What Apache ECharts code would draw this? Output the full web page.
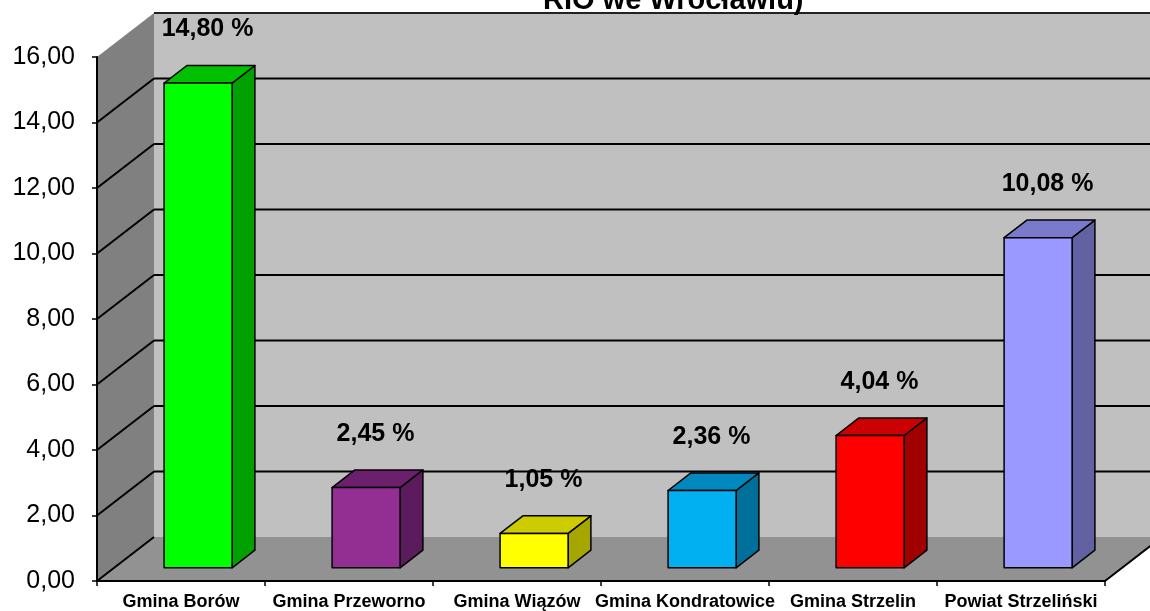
<!DOCTYPE html>
<html>
<head>
<meta charset="utf-8">
<script src="https://cdn.jsdelivr.net/npm/echarts@6/dist/echarts.min.js"></script>
<style>
  html, body { margin: 0; padding: 0; background: #fff; }
  #chart { width: 1150px; height: 611px; }
</style>
</head>
<body>
<div id="chart"></div>
<script>
// dane
var categories = ['Gmina Borów', 'Gmina Przeworno', 'Gmina Wiązów', 'Gmina Kondratowice', 'Gmina Strzelin', 'Powiat Strzeliński']
var values = [14.80, 2.45, 1.05, 2.36, 4.04, 10.08]
var yTicks = [0, 2, 4, 6, 8, 10, 12, 14, 16]
var titleText = 'RIO we Wrocławiu)'

// kolory: przód, góra, bok
var barColors = [
  ['#00FF00', '#00C000', '#00A000'],
  ['#932F93', '#6C1F6C', '#5C1B5C'],
  ['#FFFF00', '#CCCC00', '#A6A600'],
  ['#00B0F0', '#0088BF', '#00709A'],
  ['#FF0000', '#CC0000', '#A00000'],
  ['#9999FF', '#7A7ACC', '#6262A2']
]

// głębokość 3D (px)
var DX = 57
var DY = -44
var F1 = 0.3   // przód słupka
var F2 = 0.7   // tył słupka
var BAR_W = 68

function fmt(v) {
  return v.toFixed(2).replace('.', ',')
}

var chart = echarts.init(document.getElementById('chart'))

function renderWalls(params, api) {
  var cs = params.coordSys
  var x0 = cs.x
  var x1 = cs.x + cs.width
  var yB = api.coord([0, 0])[1]
  var yT = api.coord([0, yTicks[yTicks.length - 1]])[1]
  var children = [
    {
      type: 'polygon',
      shape: { points: [[x0, yB], [x0, yT], [x0 + DX, yT + DY], [x0 + DX, yB + DY]] },
      style: { fill: '#808080' }
    },
    {
      type: 'rect',
      shape: { x: x0 + DX, y: yT + DY, width: x1 - x0 + 20, height: yB - yT },
      style: { fill: '#C0C0C0' }
    },
    {
      type: 'polygon',
      shape: { points: [[x0, yB], [x1, yB], [x1 + DX, yB + DY], [x0 + DX, yB + DY]] },
      style: { fill: '#929292' }
    },
    {
      type: 'line',
      shape: { x1: x1, y1: yB, x2: x1 + DX, y2: yB + DY },
      style: { stroke: '#000', lineWidth: 2 }
    }
  ]
  yTicks.forEach(function (t) {
    var y = api.coord([0, t])[1]
    if (t !== 0) {
      children.push({
        type: 'line',
        shape: { x1: x0 + DX, y1: y + DY, x2: x1 + DX + 20, y2: y + DY },
        style: { stroke: t === 16 ? '#222' : '#000', lineWidth: 2 }
      })
    }
    if (t !== 16) {
      children.push({
        type: 'line',
        shape: { x1: x0, y1: y, x2: x0 + DX, y2: y + DY },
        style: { stroke: '#000', lineWidth: 2 }
      })
    }
  })
  return { type: 'group', children: children }
}

function renderBar(params, api) {
  var i = api.value(0)
  var v = api.value(1)
  var base = api.coord([i, 0])
  var top = api.coord([i, v])
  var cx = base[0] + F1 * DX
  var xl = cx - BAR_W / 2
  var xr = cx + BAR_W / 2
  var yb = base[1] + F1 * DY
  var yt = top[1] + F1 * DY
  var bdx = (F2 - F1) * DX
  var bdy = (F2 - F1) * DY
  var c = barColors[params.dataIndex]
  var line = { stroke: '#000', lineWidth: 1.5, lineJoin: 'round' }
  return {
    type: 'group',
    children: [
      {
        type: 'polygon',
        shape: { points: [[xr, yt], [xr + bdx, yt + bdy], [xr + bdx, yb + bdy], [xr, yb]] },
        style: Object.assign({ fill: c[2] }, line)
      },
      {
        type: 'polygon',
        shape: { points: [[xl, yt], [xr, yt], [xr + bdx, yt + bdy], [xl + bdx, yt + bdy]] },
        style: Object.assign({ fill: c[1] }, line)
      },
      {
        type: 'rect',
        shape: { x: xl, y: yt, width: BAR_W, height: yb - yt },
        style: Object.assign({ fill: c[0] }, line)
      },
      {
        type: 'text',
        x: cx + bdx / 2 - 2,
        y: yt + bdy - 36,
        style: {
          text: fmt(v) + ' %',
          fill: '#000',
          font: 'bold 25px "Liberation Sans", Arial, sans-serif',
          align: 'center',
          verticalAlign: 'middle'
        }
      }
    ]
  }
}

chart.setOption({
  animation: false,
  backgroundColor: '#fff',
  title: {
    text: titleText,
    left: 538,
    top: -19,
    textStyle: {
      fontFamily: '"Liberation Sans", Arial, sans-serif',
      fontSize: 29,
      fontWeight: 'bold',
      color: '#000'
    }
  },
  grid: {
    left: 97,
    right: 45,
    top: 57,
    bottom: 29,
    containLabel: false
  },
  xAxis: {
    type: 'category',
    data: categories,
    z: 5,
    axisLine: { lineStyle: { color: '#000', width: 2 } },
    axisTick: { show: true, length: 5, lineStyle: { color: '#000', width: 1.5 } },
    axisLabel: {
      color: '#000',
      fontFamily: '"Liberation Sans", Arial, sans-serif',
      fontWeight: 'bold',
      fontSize: 18,
      margin: 12,
      interval: 0
    },
    splitLine: { show: false }
  },
  yAxis: {
    type: 'value',
    min: 0,
    max: 16,
    interval: 2,
    z: 5,
    axisLine: { show: true, lineStyle: { color: '#000', width: 2 } },
    axisTick: { show: true, length: 5, lineStyle: { color: '#000', width: 1.5 } },
    axisLabel: {
      color: '#000',
      fontFamily: '"Liberation Sans", Arial, sans-serif',
      fontSize: 25,
      margin: 22,
      formatter: function (v) { return fmt(v) }
    },
    splitLine: { show: false }
  },
  series: [
    {
      type: 'custom',
      z: 1,
      clip: false,
      silent: true,
      renderItem: renderWalls,
      data: [[0, 0]]
    },
    {
      type: 'custom',
      z: 10,
      clip: false,
      renderItem: renderBar,
      encode: { x: 0, y: 1 },
      data: values.map(function (v, i) { return [i, v] })
    }
  ]
})
</script>
</body>
</html>
